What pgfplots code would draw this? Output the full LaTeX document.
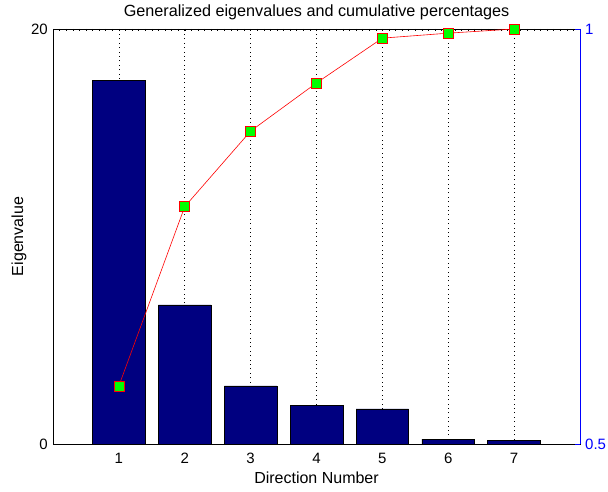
\documentclass[border=0pt]{standalone}
\usepackage{pgfplots}
\pgfplotsset{compat=1.18}
\usepackage{fontspec}
\setmainfont{Liberation Sans}
\definecolor{barblue}{RGB}{0,0,128}
\definecolor{mgreen}{RGB}{0,255,0}
\begin{document}
\fontsize{15}{18}\selectfont
\begin{tikzpicture}
\begin{axis}[name=main,
  scale only axis, width=527pt, height=415pt,
  xmin=0, xmax=8, ymin=0, ymax=20,
  xtick={1,...,7}, ytick={0,20},
  xtick pos=bottom, ytick pos=left,
  tick align=inside, major tick length=5pt,
  /pgf/number format/assume math mode=true,
  xmajorgrids,
  major grid style={black, dash pattern=on 0.8pt off 3.6pt, line width=0.6pt},
  axis line style={black, line width=0.7pt},
  tick style={black, line width=0.6pt},
  xlabel={Direction Number}, ylabel={Eigenvalue},
  title={Generalized eigenvalues and cumulative percentages},
  title style={at={(0.5,1)}, anchor=south, yshift=-2pt, font=\fontsize{16.2}{19}\selectfont},
  xticklabel style={yshift=-4pt},
  xlabel style={yshift=2.5pt},
  ylabel style={yshift=-5.5pt},
  tick label style={font=\fontsize{15}{18}\selectfont},
  label style={font=\fontsize{16}{19}\selectfont},
]
\addplot[ybar, bar width=0.8, fill=barblue, draw=black, line width=0.6pt]
  coordinates {(1,17.54) (2,6.70) (3,2.80) (4,1.88) (5,1.69) (6,0.24) (7,0.19)};
\end{axis}
\begin{axis}[
  scale only axis, width=527pt, height=415pt,
  xmin=0, xmax=8, ymin=0, ymax=1,
  axis x line*=top, axis y line=none,
  xtick={0,0.1,...,8.05}, xticklabels={},
  tick align=inside, major tick length=2pt,
  x axis line style={black, line width=0.7pt, -},
  xtick style={black, line width=0.5pt},
]
\end{axis}
\begin{axis}[
  scale only axis, width=527pt, height=415pt,
  xmin=0, xmax=8, ymin=0.5, ymax=1,
  axis y line*=right, axis x line=none,
  ytick={0.5,1}, yticklabels={0.5,1},
  tick align=inside, major tick length=5pt,
  /pgf/number format/assume math mode=true,
  y axis line style={blue, line width=0.8pt, -},
  ytick style={blue, line width=0.8pt},
  yticklabel style={blue, font=\fontsize{15}{18}\selectfont},
]
\addplot[red, line width=0.6pt, mark=square*, mark size=5pt,
  mark options={fill=mgreen, draw=red, line width=0.7pt}]
  coordinates {(1,0.570) (2,0.786) (3,0.877) (4,0.935) (5,0.989) (6,0.995) (7,1.0)};
\end{axis}
\pgfresetboundingbox
\path ([shift={(-53pt,-47pt)}]main.south west) rectangle ([shift={(28pt,29pt)}]main.north east);
\end{tikzpicture}
\end{document}
